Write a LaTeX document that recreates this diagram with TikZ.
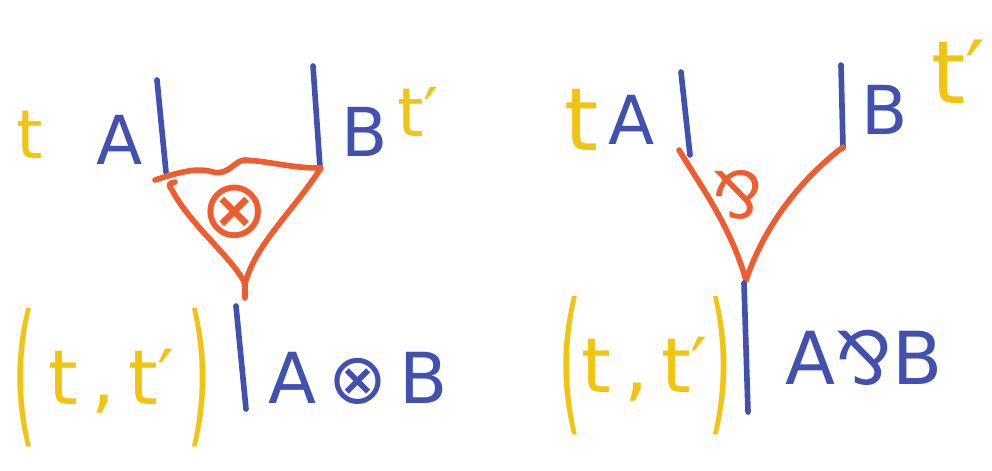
\documentclass[tikz,border=0pt]{standalone}
\usepackage{fontspec}
\usepackage{graphicx}
\setmainfont{DejaVu Sans}
\usetikzlibrary{positioning}
\definecolor{inkblue}{RGB}{66,80,176}
\definecolor{inkorange}{RGB}{238,92,48}
\definecolor{inkyellow}{RGB}{242,196,18}
\newcommand{\bigparen}[1]{\raisebox{-16pt}{\scalebox{0.8}[2.05]{#1}}}

\begin{document}
\begin{tikzpicture}[
    x=0.025cm, y=-0.025cm,
    wire/.style={draw=inkblue, line width=4pt, line cap=round},
    link/.style={draw=inkorange, line width=4pt, line cap=round, line join=round},
    formula/.style={text=inkblue, inner sep=0pt, font=\fontsize{48}{52}\selectfont},
    term/.style={text=inkyellow, inner sep=0pt, font=\fontsize{48}{52}\selectfont},
    rule/.style={text=inkorange, inner sep=0pt, font=\fontsize{40}{44}\selectfont}
]
\useasboundingbox (0,0) rectangle (992,470);

% tensor
\node[term] (tl) at (30,135) {t};
\node[formula] (al) at (120,140) {A};
\node[formula] (bl) at (365,132) {B};
\node[term] (tpl) at (418,112) {t′};
\coordinate (altop) at (157,80);
\coordinate (albot) at (166,172);
\coordinate (bltop) at (313,66);
\coordinate (blbot) at (320,167);
\draw[wire] (altop) -- (albot);
\draw[wire] (bltop) -- (blbot);

\coordinate (trl) at (155,180);
\coordinate (trr) at (321,168);
\coordinate (trb) at (245,284);
\coordinate (trs) at (245,298);
\draw[link] (trl) .. controls (185,170) and (200,168) .. (213,172)
  .. controls (228,176) and (235,160) .. (245,160)
  .. controls (275,162) and (290,168) .. (trr)
  .. controls (290,215) and (255,245) .. (trb) -- (trs);
\draw[link] (trb) .. controls (235,260) and (190,225) .. (172,190)
  .. controls (168,184) .. (175,182);
\node[rule, font=\fontsize{58}{62}\selectfont] (tens) at (235,212) {⊗};

\coordinate (cltop) at (236,306);
\coordinate (clbot) at (246,409);
\draw[wire] (cltop) -- (clbot);
\node[term, font=\fontsize{54}{58}\selectfont] (ttl) at (112,378)
  {\bigparen{(}\,t\,,\,t′\,\bigparen{)}};
\node[formula, font=\fontsize{50}{54}\selectfont] (cl) at (358,378) {A\,⊗\,B};

% par
\node[term, font=\fontsize{62}{66}\selectfont] (tr) at (582,120) {t};
\node[formula] (ar) at (632,120) {A};
\node[formula] (br) at (885,110) {B};
\node[term, font=\fontsize{62}{66}\selectfont] (tpr) at (958,72) {t′};
\coordinate (artop) at (681,72);
\coordinate (arbot) at (690,155);
\coordinate (brtop) at (841,65);
\coordinate (brbot) at (843,148);
\draw[wire] (artop) -- (arbot);
\draw[wire] (brtop) -- (brbot);

\coordinate (vl) at (679,150);
\coordinate (vr) at (843,147);
\coordinate (vb) at (746,280);
\draw[link] (vl) .. controls (700,185) and (730,225) .. (vb);
\draw[link] (vr) .. controls (800,180) and (765,225) .. (vb);
\node[rule, font=\fontsize{46}{50}\selectfont] (parr) at (738,195) {⅋};

\coordinate (crtop) at (744,283);
\coordinate (crbot) at (748,412);
\draw[wire] (crtop) -- (crbot);
\node[term, font=\fontsize{54}{58}\selectfont] (ttr) at (645,366)
  {\bigparen{(}t\,,\,t′\bigparen{)}};
\node[formula, font=\fontsize{52}{56}\selectfont] (cr) at (864,358) {A⅋B};
\end{tikzpicture}
\end{document}
